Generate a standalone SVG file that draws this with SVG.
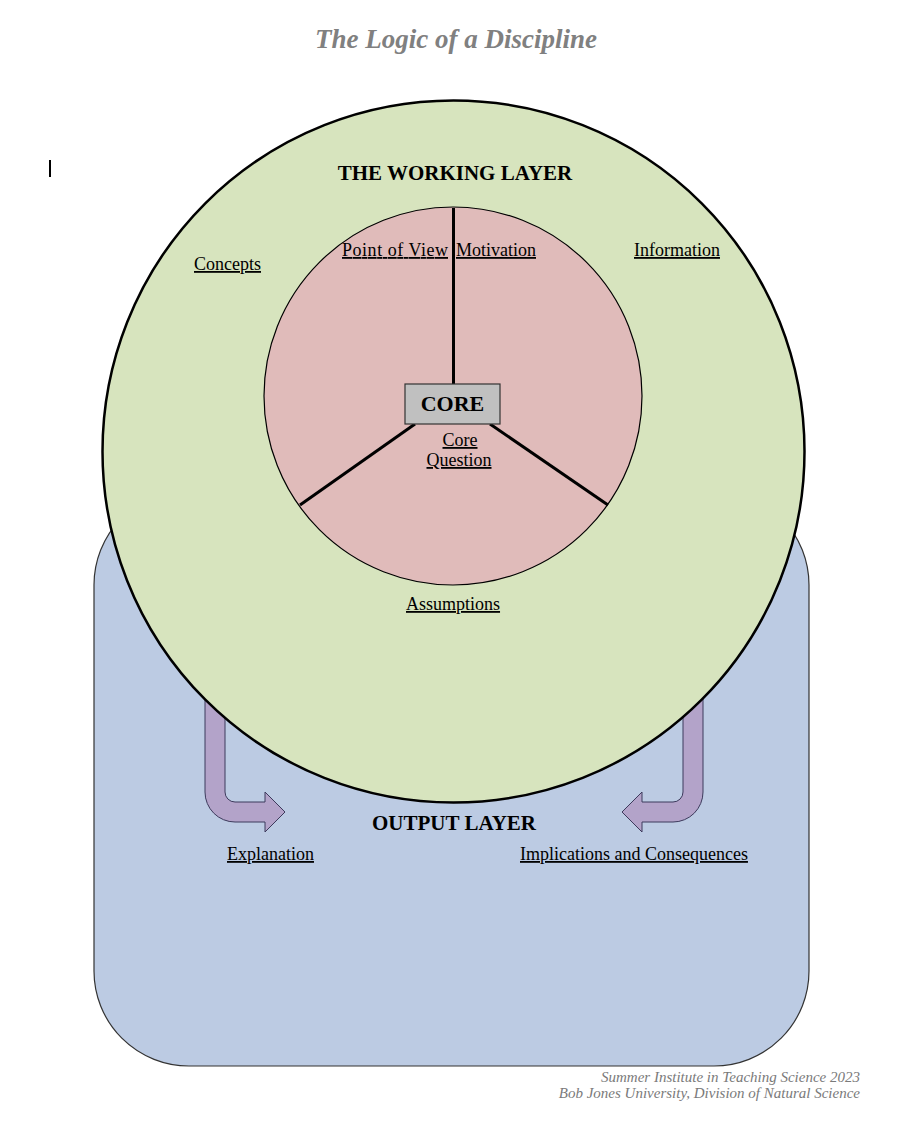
<svg xmlns="http://www.w3.org/2000/svg" width="908" height="1130" viewBox="0 0 908 1130">
<style>
.lbl{font-family:"Liberation Serif",serif;font-size:18px;fill:#000;text-decoration:underline}
.hdr{font-family:"Liberation Serif",serif;font-size:21px;font-weight:bold;fill:#000}
.arrow{fill:#b3a3c9;stroke:#3d3a5c;stroke-width:1}
.foot{font-family:"Liberation Serif",serif;font-size:15px;font-style:italic;fill:#7a7a7a}
</style>
<rect width="908" height="1130" fill="#fff"/>
<text x="456" y="48" text-anchor="middle" font-family="Liberation Serif,serif" font-size="27" font-weight="bold" font-style="italic" fill="#808080">The Logic of a Discipline</text>
<line x1="50" y1="160" x2="50" y2="177" stroke="#000" stroke-width="2"/>
<g id="output-layer">
<rect x="94" y="490" width="715" height="576" rx="95" ry="95" fill="#bccbe3" stroke="#333" stroke-width="1.2"/>
</g>
<g id="connectors">
<path class="arrow" d="M205,650 L205,792 A30,30 0 0 0 235,822 L265,822 L265,832 L285,812 L265,792 L265,802 L235,802 A10,10 0 0 1 225,792 L225,650 Z"/>
<path class="arrow" d="M703,650 L703,792 A30,30 0 0 1 673,822 L642,822 L642,832 L622,812 L642,792 L642,802 L673,802 A10,10 0 0 0 683,792 L683,650 Z"/>
</g>
<g id="working-layer">
<circle cx="453.5" cy="451.5" r="351" fill="#d7e4be" stroke="#000" stroke-width="2.5"/>
<text class="hdr" x="455" y="180" text-anchor="middle">THE WORKING LAYER</text>
<text class="lbl" x="194" y="270">Concepts</text>
<text class="lbl" x="634" y="256">Information</text>
<text class="lbl" x="406" y="610">Assumptions</text>
</g>
<g id="core-circle">
<circle cx="453" cy="396" r="189" fill="#e0bbba" stroke="#000" stroke-width="1.2"/>
<line x1="453.5" y1="208" x2="453.5" y2="385" stroke="#000" stroke-width="3"/>
<line x1="415" y1="424" x2="300" y2="505" stroke="#000" stroke-width="3"/>
<line x1="490" y1="424" x2="608" y2="505" stroke="#000" stroke-width="3"/>
<text class="lbl" x="342" y="256" textLength="106" lengthAdjust="spacing">Point of View</text>
<text class="lbl" x="456" y="256">Motivation</text>
<text class="lbl" x="460" y="446" text-anchor="middle">Core</text>
<text class="lbl" x="459" y="466" text-anchor="middle">Question</text>
</g>
<g id="core">
<rect x="405" y="384" width="95" height="40" fill="#c0c0c0" stroke="#333" stroke-width="1.2"/>
<text x="452.5" y="411" text-anchor="middle" font-family="Liberation Serif,serif" font-size="22" font-weight="bold" fill="#000">CORE</text>
</g>
<g id="output-labels">
<text class="hdr" x="454" y="830" text-anchor="middle">OUTPUT LAYER</text>
<text class="lbl" x="227" y="860">Explanation</text>
<text class="lbl" x="520" y="860">Implications and Consequences</text>
</g>
<g id="footer">
<text class="foot" x="860" y="1082" text-anchor="end">Summer Institute in Teaching Science 2023</text>
<text class="foot" x="860" y="1098" text-anchor="end">Bob Jones University, Division of Natural Science</text>
</g>
</svg>
